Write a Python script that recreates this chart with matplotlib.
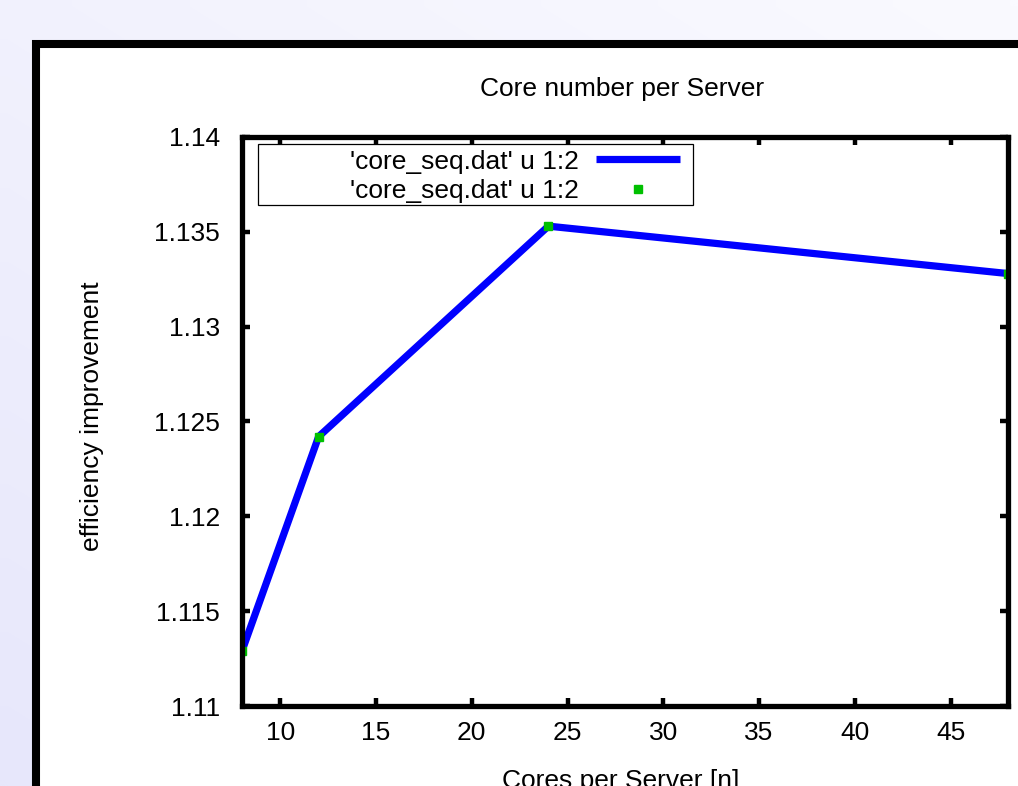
import numpy as np
import matplotlib
matplotlib.use("Agg")
import matplotlib.pyplot as plt
from matplotlib.patches import Rectangle
from matplotlib.ticker import FormatStrFormatter, MultipleLocator

# data
cores = [8, 12, 24, 48]
efficiency = [1.1129, 1.1242, 1.1353, 1.1328]
series_label = "'core_seq.dat' u 1:2"

W, H = 1018, 786
plt.rcParams['font.family'] = ['Liberation Sans', 'DejaVu Sans']
FS = 19

fig = plt.figure(figsize=(W / 100, H / 100), dpi=100)

# background: lavender gradient plus the black slide frame
bg = fig.add_axes([0, 0, 1, 1], zorder=-5)
bg.set_xlim(0, W)
bg.set_ylim(H, 0)
bg.axis("off")
gx = np.linspace(0, 1, 64)
gy = np.linspace(0, 1, 64)
gxx, gyy = np.meshgrid(gx, gy)
t = np.clip(0.55 * gyy + 0.45 * (1 - gxx), 0, 1)
c0 = np.array([250, 250, 255]) / 255
c1 = np.array([231, 231, 251]) / 255
img = c0[None, None, :] * (1 - t[..., None]) + c1[None, None, :] * t[..., None]
bg.imshow(img, extent=(0, W, H, 0), aspect="auto", interpolation="bilinear")
bg.add_patch(Rectangle((36, 43.5), 1100, 900, facecolor="white",
                       edgecolor="black", lw=5.8))

ax = fig.add_axes([242 / W, 1 - 706 / H, (1008 - 242) / W, (706 - 137) / H])
ax.set_facecolor("none")

ax.plot(cores, efficiency, color="#0000ff", lw=5.2, solid_capstyle="butt",
        label=series_label, zorder=2)
ax.plot(cores, efficiency, ls="none", marker="s", ms=5.5, color="#00c000",
        mec="#00c000", label=series_label, zorder=3)

ax.set_xlim(8, 48)
ax.set_ylim(1.11, 1.14)
ax.yaxis.set_major_locator(MultipleLocator(0.005))
ax.yaxis.set_major_formatter(FormatStrFormatter("%g"))
ax.set_xticks([10, 15, 20, 25, 30, 35, 40, 45])

for s in ax.spines.values():
    s.set_linewidth(3.8)
    s.set_zorder(4)
ax.tick_params(direction="in", length=5.8, width=3.2, top=True, right=True,
               labelsize=FS, colors="black")
ax.tick_params(axis="y", pad=16)
ax.tick_params(axis="x", pad=11)

# legend: thin box, entries right-aligned like gnuplot
ax.add_patch(Rectangle((0.0209, 0.8805), 0.568, 0.1072, transform=ax.transAxes,
                       fill=False, edgecolor="black", lw=0.9, zorder=5))
leg = ax.legend(loc="upper right", bbox_to_anchor=(0.572, 0.978),
                frameon=False, markerfirst=False, fontsize=FS,
                handlelength=3.2, handletextpad=0.65, borderpad=0,
                borderaxespad=0, labelspacing=0.2)

fig.text(622 / W, 1 - 89 / H, "Core number per Server", fontsize=FS,
         ha="center", va="center")
fig.text(92 / W, 1 - 416 / H, "efficiency improvement", fontsize=FS,
         ha="center", va="center", rotation=90)
fig.text(621 / W, -2 / H, "Cores per Server [n]", fontsize=FS,
         ha="center", va="baseline")

fig.savefig("out.png", dpi=100)
